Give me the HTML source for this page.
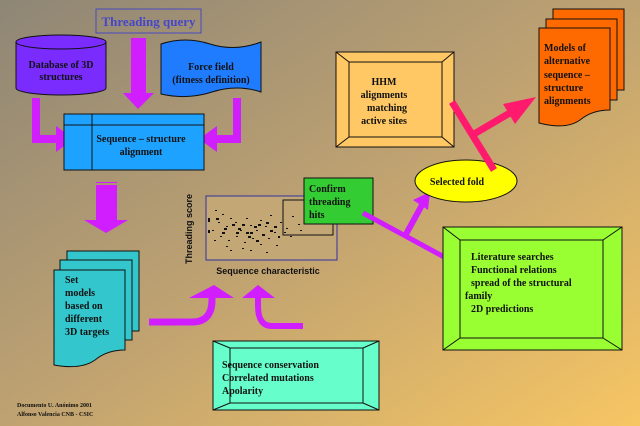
<!DOCTYPE html>
<html><head><meta charset="utf-8"><style>
html,body{margin:0;padding:0;width:640px;height:426px;overflow:hidden}
svg{display:block}
text{font-family:"Liberation Serif",serif;font-weight:bold;fill:#111}
</style></head><body>
<svg width="640" height="426" viewBox="0 0 640 426" xmlns="http://www.w3.org/2000/svg">
<defs>
<linearGradient id="bg" x1="0" y1="0" x2="1" y2="1">
<stop offset="0" stop-color="#8e8676"/>
<stop offset="0.5" stop-color="#bfa271"/>
<stop offset="1" stop-color="#f7c663"/>
</linearGradient>
</defs>
<rect width="640" height="426" fill="url(#bg)"/>

<!-- Threading query -->
<rect x="96" y="9" width="105" height="24" fill="none" stroke="#4a4ac0" stroke-width="1"/>
<text x="148.5" y="26" text-anchor="middle" font-size="13" style="fill:#4646c8">Threading query</text>

<!-- Database cylinder -->
<path d="M16,42 L16,88 A45,7 0 0 0 106,88 L106,42 Z" fill="#7a2cff" stroke="#111"/>
<ellipse cx="61" cy="42" rx="45" ry="7" fill="#7a2cff" stroke="#111"/>
<text x="61" y="68" text-anchor="middle" font-size="10">Database of 3D</text>
<text x="61" y="80" text-anchor="middle" font-size="10">structures</text>

<!-- Force field -->
<path d="M161,44 Q185,36 210,44 Q235,52 261,42 L261,92 Q237,84 212,92 Q187,100 161,94 Z" fill="#1f7cff" stroke="#111"/>
<text x="211" y="70" text-anchor="middle" font-size="10">Force field</text>
<text x="211" y="83" text-anchor="middle" font-size="10">(fitness definition)</text>

<!-- magenta arrows -->
<g fill="#d01eff">
<rect x="131" y="38" width="15" height="55"/>
<polygon points="123,93 154,93 138,109"/>
<path d="M32,98 h8 v37 h16 v-9 l18,13 l-18,13 v-9 h-24 Z"/>
<path d="M241,98 h-8 v37 h-16 v-9 l-18,13 l18,13 v-9 h24 Z"/>
<rect x="96" y="185" width="21" height="36"/>
<rect x="96" y="182" width="21" height="1"/>
<polygon points="84,220 128,220 106,233"/>
<polygon points="189,298 214,285 234,298"/>
<polygon points="242,298 258,285 275,298"/>
</g>
<path d="M149,322 H192 Q212,322 212,300 V296" fill="none" stroke="#d01eff" stroke-width="7"/>
<path d="M303,326 H272 Q258,326 258,306 V296" fill="none" stroke="#d01eff" stroke-width="6"/>

<!-- Sequence - structure alignment -->
<rect x="64" y="114" width="140" height="56" fill="#1ea2ff" stroke="#111"/>
<line x1="64" y1="125" x2="204" y2="125" stroke="#111"/>
<line x1="92" y1="114" x2="92" y2="170" stroke="#111"/>
<text x="141" y="142" text-anchor="middle" font-size="10">Sequence – structure</text>
<text x="141" y="155" text-anchor="middle" font-size="10">alignment</text>

<!-- Set models stack -->
<rect x="67" y="251" width="72" height="80" fill="#33c6cc" stroke="#111"/>
<rect x="60" y="260" width="72" height="80" fill="#33c6cc" stroke="#111"/>
<path d="M54,270 h71 v80 q-18,0 -30,10 q-14,10 -41,5 Z" fill="#33c6cc" stroke="#111"/>
<g font-size="10"><text x="65" y="283">Set</text><text x="65" y="296">models</text><text x="65" y="309">based on</text><text x="65" y="322">different</text><text x="65" y="335">3D targets</text></g>

<!-- Scatter plot -->
<rect x="206" y="196" width="131" height="64" fill="#c3a876" stroke="#3030a0"/>
<rect x="283" y="200" width="50" height="35" fill="none" stroke="#111"/>
<g fill="#111">
<rect x="215" y="210" width="2" height="1"/><rect x="222" y="214" width="2" height="1"/><rect x="230" y="218" width="2" height="1"/><rect x="218" y="222" width="2" height="1"/><rect x="226" y="226" width="2" height="1"/><rect x="235" y="222" width="2" height="1"/><rect x="240" y="230" width="2" height="1"/><rect x="246" y="218" width="2" height="1"/><rect x="250" y="225" width="2" height="1"/><rect x="256" y="230" width="2" height="1"/><rect x="260" y="220" width="2" height="1"/><rect x="265" y="226" width="2" height="1"/><rect x="270" y="215" width="2" height="1"/><rect x="274" y="232" width="2" height="1"/><rect x="280" y="222" width="2" height="1"/><rect x="286" y="228" width="2" height="1"/><rect x="292" y="216" width="2" height="1"/><rect x="298" y="224" width="2" height="1"/><rect x="305" y="213" width="2" height="1"/><rect x="312" y="206" width="2" height="1"/><rect x="318" y="220" width="2" height="1"/><rect x="212" y="230" width="2" height="1"/><rect x="220" y="236" width="2" height="1"/><rect x="228" y="240" width="2" height="1"/><rect x="236" y="236" width="2" height="1"/><rect x="244" y="242" width="2" height="1"/><rect x="252" y="238" width="2" height="1"/><rect x="260" y="244" width="2" height="1"/><rect x="268" y="238" width="2" height="1"/><rect x="276" y="245" width="2" height="1"/><rect x="230" y="250" width="2" height="1"/><rect x="266" y="252" width="2" height="1"/><rect x="238" y="228" width="3" height="2"/><rect x="246" y="232" width="3" height="2"/><rect x="254" y="226" width="3" height="2"/><rect x="224" y="228" width="3" height="2"/><rect x="262" y="234" width="3" height="2"/><rect x="216" y="218" width="3" height="2"/><rect x="270" y="230" width="3" height="2"/><rect x="208" y="218" width="2" height="4"/><rect x="208" y="230" width="2" height="3"/>
<rect x="232" y="224" width="3" height="2"/><rect x="242" y="224" width="3" height="2"/><rect x="250" y="232" width="3" height="2"/><rect x="258" y="224" width="3" height="2"/><rect x="266" y="222" width="3" height="2"/><rect x="274" y="226" width="3" height="2"/><rect x="222" y="232" width="3" height="2"/><rect x="236" y="232" width="3" height="2"/><rect x="248" y="236" width="3" height="2"/><rect x="256" y="240" width="3" height="2"/><rect x="278" y="236" width="2" height="2"/><rect x="284" y="232" width="2" height="1"/><rect x="290" y="236" width="2" height="1"/><rect x="214" y="240" width="2" height="1"/><rect x="226" y="246" width="2" height="1"/><rect x="242" y="248" width="2" height="1"/><rect x="250" y="250" width="2" height="1"/><rect x="300" y="230" width="2" height="1"/>
</g>
<text x="0" y="0" font-size="9" transform="translate(192,264) rotate(-90)" style="font-family:'Liberation Sans',sans-serif">Threading score</text>
<text x="268" y="274" text-anchor="middle" font-size="9" style="font-family:'Liberation Sans',sans-serif">Sequence characteristic</text>

<!-- Confirm box -->
<rect x="304" y="178" width="69" height="46" fill="#33cc33" stroke="#111"/>
<g font-size="10"><text x="309" y="192">Confirm</text><text x="309" y="205">threading</text><text x="309" y="218">hits</text></g>

<!-- purple lines to selected fold -->
<line x1="363" y1="213" x2="446" y2="258" stroke="#d01eff" stroke-width="5"/>
<line x1="405" y1="236" x2="422" y2="205" stroke="#d01eff" stroke-width="6"/>
<polygon points="430,192 413,200 428,210" fill="#d01eff"/>

<!-- Literature box -->
<rect x="443" y="227" width="179" height="123" fill="#99ff33" stroke="#111"/>
<rect x="460" y="240" width="143" height="98" fill="none" stroke="#111"/>
<line x1="443" y1="227" x2="460" y2="240" stroke="#111"/><line x1="622" y1="227" x2="603" y2="240" stroke="#111"/>
<line x1="443" y1="350" x2="460" y2="338" stroke="#111"/><line x1="622" y1="350" x2="603" y2="338" stroke="#111"/>
<g font-size="10"><text x="471" y="260">Literature searches</text><text x="471" y="273">Functional relations</text><text x="471" y="286">spread of the structural</text><text x="465" y="299">family</text><text x="471" y="312">2D predictions</text></g>

<!-- Sequence conservation box -->
<rect x="213" y="341" width="166" height="69" fill="#66ffcc" stroke="#111"/>
<rect x="230" y="348" width="133" height="55" fill="none" stroke="#111"/>
<line x1="213" y1="341" x2="230" y2="348" stroke="#111"/><line x1="379" y1="341" x2="363" y2="348" stroke="#111"/>
<line x1="213" y1="410" x2="230" y2="403" stroke="#111"/><line x1="379" y1="410" x2="363" y2="403" stroke="#111"/>
<g font-size="10"><text x="222" y="368">Sequence conservation</text><text x="222" y="381">Correlated mutations</text><text x="222" y="394">Apolarity</text></g>

<!-- HHM box -->
<rect x="336" y="52" width="118" height="95" fill="#ffc864" stroke="#111"/>
<rect x="349" y="62" width="93" height="75" fill="none" stroke="#111"/>
<line x1="336" y1="52" x2="349" y2="62" stroke="#111"/><line x1="454" y1="52" x2="442" y2="62" stroke="#111"/>
<line x1="336" y1="147" x2="349" y2="137" stroke="#111"/><line x1="454" y1="147" x2="442" y2="137" stroke="#111"/>
<g font-size="10" text-anchor="middle"><text x="384" y="85">HHM</text><text x="384" y="98">alignments</text><text x="387" y="111">matching</text><text x="384" y="124">active sites</text></g>

<!-- Selected fold -->
<ellipse cx="466" cy="181" rx="51" ry="21" fill="#ffff00" stroke="#111"/>
<text x="457" y="185" text-anchor="middle" font-size="10">Selected fold</text>

<!-- Models stack -->
<rect x="553" y="9" width="71" height="81" fill="#ff6a00" stroke="#111"/>
<rect x="546" y="19" width="71" height="81" fill="#ff6a00" stroke="#111"/>
<path d="M539,28 h71 v82 q-18,0 -30,10 q-14,10 -41,3 Z" fill="#ff6a00" stroke="#111"/>
<g font-size="10"><text x="544" y="51">Models of</text><text x="544" y="64">alternative</text><text x="544" y="78">sequence –</text><text x="544" y="91">structure</text><text x="544" y="104">alignments</text></g>

<!-- red lines -->
<line x1="452" y1="102" x2="494" y2="170" stroke="#ff1a6e" stroke-width="7"/>
<line x1="474" y1="134" x2="520" y2="107" stroke="#ff1a6e" stroke-width="7"/>
<polygon points="536,97 503,104 515,124" fill="#ff1a6e"/>

<!-- footer -->
<g font-size="6"><text x="17" y="407">Documento U. Anónimo 2001</text><text x="17" y="416">Alfonso Valencia CNB - CSIC</text></g>
</svg>
</body></html>
